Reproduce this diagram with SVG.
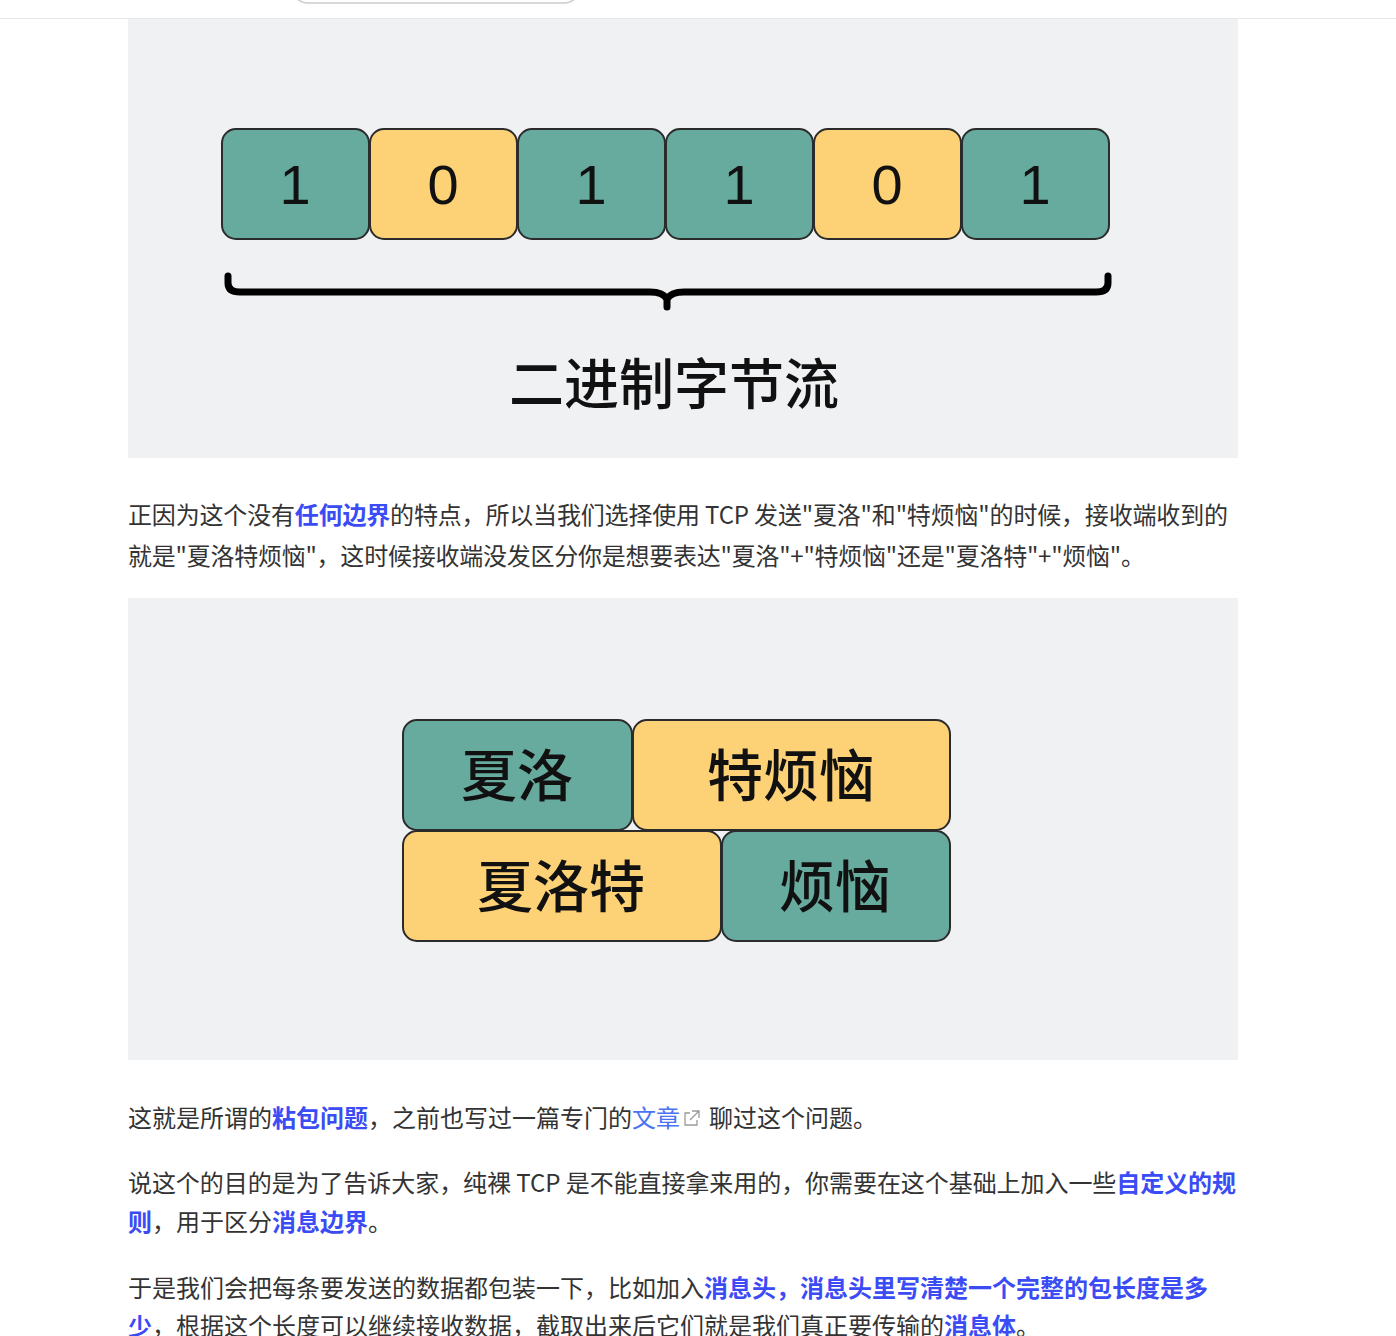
<svg xmlns="http://www.w3.org/2000/svg" width="1396" height="1336" viewBox="0 0 1396 1336">
<style>
.panel{fill:#f0f1f3}
.g{fill:#67ab9f;stroke:#2b2b2b;stroke-width:2}
.y{fill:#fdd276;stroke:#2b2b2b;stroke-width:2}
.digit{font-family:"Liberation Sans",Arial,sans-serif;font-size:56px;fill:#111;text-anchor:middle}
.big{font-family:"Noto Sans CJK SC",sans-serif;font-size:56px;fill:#111;text-anchor:middle;font-weight:500}
.p{font-family:"Noto Sans CJK SC","Noto Sans",sans-serif;font-size:24px;fill:#333}
.b{font-weight:700;fill:#3b4cf5}
.lk{fill:#4a74f5}
</style>
<rect x="0" y="0" width="1396" height="1336" fill="#ffffff"/>
<rect x="292" y="-30" width="288" height="33" rx="16" fill="#ffffff" stroke="#cccccc" stroke-width="1.5"/>
<line x1="0" y1="18.5" x2="1396" y2="18.5" stroke="#e6e8eb" stroke-width="1"/>

<g id="panel1">
<rect class="panel" x="128" y="19" width="1110" height="439"/>
</g>
<g id="bit1"><rect class="g" x="222" y="129" width="147" height="110" rx="14"/><text class="digit" x="295" y="204">1</text></g>
<g id="bit2"><rect class="y" x="370" y="129" width="147" height="110" rx="14"/><text class="digit" x="443" y="204">0</text></g>
<g id="bit3"><rect class="g" x="518" y="129" width="147" height="110" rx="14"/><text class="digit" x="591" y="204">1</text></g>
<g id="bit4"><rect class="g" x="666" y="129" width="147" height="110" rx="14"/><text class="digit" x="739" y="204">1</text></g>
<g id="bit5"><rect class="y" x="814" y="129" width="147" height="110" rx="14"/><text class="digit" x="887" y="204">0</text></g>
<g id="bit6"><rect class="g" x="962" y="129" width="147" height="110" rx="14"/><text class="digit" x="1035" y="204">1</text></g>
<g id="connectors">
<path d="M228,276 V283 Q228,292 240,292 H650 Q663,292 667,299 Q671,292 684,292 H1096 Q1108,292 1108,283 V276 M667,298 V307" fill="none" stroke="#000" stroke-width="7" stroke-linecap="round" stroke-linejoin="round"/>
</g>
<g id="caption"><text class="big" x="674" y="404" style="font-size:55px">二进制字节流</text></g>

<g id="para1">
<text class="p" x="128" y="524" textLength="1100" lengthAdjust="spacing">正因为这个没有<tspan class="b">任何边界</tspan>的特点，所以当我们选择使用 TCP 发送"夏洛"和"特烦恼"的时候，接收端收到的</text>
<text class="p" x="128" y="565" textLength="1017" lengthAdjust="spacing">就是"夏洛特烦恼"，这时候接收端没发区分你是想要表达"夏洛"+"特烦恼"还是"夏洛特"+"烦恼"。</text>
</g>

<g id="panel2">
<rect class="panel" x="128" y="598" width="1110" height="462"/>
</g>
<g id="box-xialuo"><rect class="g" x="403" y="720" width="229" height="110" rx="14"/><text class="big" x="517" y="796">夏洛</text></g>
<g id="box-tefannao"><rect class="y" x="633" y="720" width="317" height="110" rx="14"/><text class="big" x="791" y="796">特烦恼</text></g>
<g id="box-xialuote"><rect class="y" x="403" y="831" width="318" height="110" rx="14"/><text class="big" x="561" y="907">夏洛特</text></g>
<g id="box-fannao"><rect class="g" x="722" y="831" width="228" height="110" rx="14"/><text class="big" x="835" y="907">烦恼</text></g>

<g id="para2">
<text class="p" x="128" y="1127">这就是所谓的<tspan class="b">粘包问题</tspan>，之前也写过一篇专门的<tspan class="lk">文章</tspan></text>
<g fill="none" stroke="#9a9a9a" stroke-width="1.3">
<path d="M690,1113 H685 V1125 H697 V1120"/>
<path d="M692,1111 H699 V1118 M699,1111 L690,1120"/>
</g>
<text class="p" x="709" y="1127">聊过这个问题。</text>
</g>

<g id="para3">
<text class="p" x="128" y="1192" textLength="1108" lengthAdjust="spacing">说这个的目的是为了告诉大家，纯裸 TCP 是不能直接拿来用的，你需要在这个基础上加入一些<tspan class="b">自定义的规</tspan></text>
<text class="p" x="128" y="1231"><tspan class="b">则</tspan>，用于区分<tspan class="b">消息边界</tspan>。</text>
</g>

<g id="para4">
<text class="p" x="128" y="1297">于是我们会把每条要发送的数据都包装一下，比如加入<tspan class="b">消息头，消息头里写清楚一个完整的包长度是多</tspan></text>
<text class="p" x="128" y="1335"><tspan class="b">少</tspan>，根据这个长度可以继续接收数据，截取出来后它们就是我们真正要传输的<tspan class="b">消息体</tspan>。</text>
</g>
</svg>
